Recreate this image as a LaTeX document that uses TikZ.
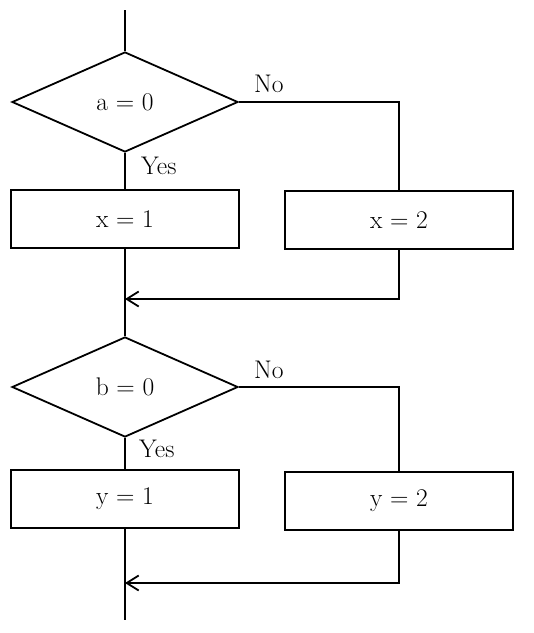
\documentclass[tikz,border=0pt]{standalone}
\usepackage{tikz}
\usetikzlibrary{shapes.geometric,arrows.meta,positioning}

\begin{document}
\begin{tikzpicture}[x=1pt, y=-1pt,
  every node/.style={font=\fontsize{25.5}{30}\selectfont},
  decision/.style={draw, diamond, line width=1.8pt, minimum width=226pt, minimum height=100pt, inner sep=0pt},
  action/.style={draw, rectangle, line width=1.8pt, minimum width=228pt, minimum height=58pt},
  lbl/.style={inner sep=0pt},
  flow/.style={line width=1.8pt},
  merge/.style={flow, -{Straight Barb[length=12pt,width=15pt,line width=1.8pt]}}
]
\useasboundingbox (0,0) rectangle (534,633);

% First decision
\coordinate (start) at (125,10);
\node[decision] (dA) at (125,102) {a = 0};
\node[action] (x1) at (125,219) {x = 1};
\node[action] (x2) at (399,220) {x = 2};
\coordinate (mA) at (125,299);

\draw[flow] (start) -- (dA.north);
\draw[flow] (dA.south) -- (x1.north);
\draw[flow] (dA.east) -| (x2.north);
\draw[merge] (x2.south) |- (mA);
\node[lbl, above right=9pt and 15pt of dA.east] {No};
\node[lbl, below right=4pt and 16pt of dA.south] {Yes};

% Second decision
\node[decision] (dB) at (125,387) {b = 0};
\node[action] (y1) at (125,499) {y = 1};
\node[action] (y2) at (399,501) {y = 2};
\coordinate (mB) at (125,583);
\coordinate (stop) at (125,620);

\draw[flow] (x1.south) -- (dB.north);
\draw[flow] (dB.south) -- (y1.north);
\draw[flow] (dB.east) -| (y2.north);
\draw[merge] (y2.south) |- (mB);
\draw[flow] (y1.south) -- (stop);
\node[lbl, above right=8pt and 15pt of dB.east] {No};
\node[lbl, below right=2pt and 14pt of dB.south] {Yes};
\end{tikzpicture}
\end{document}
